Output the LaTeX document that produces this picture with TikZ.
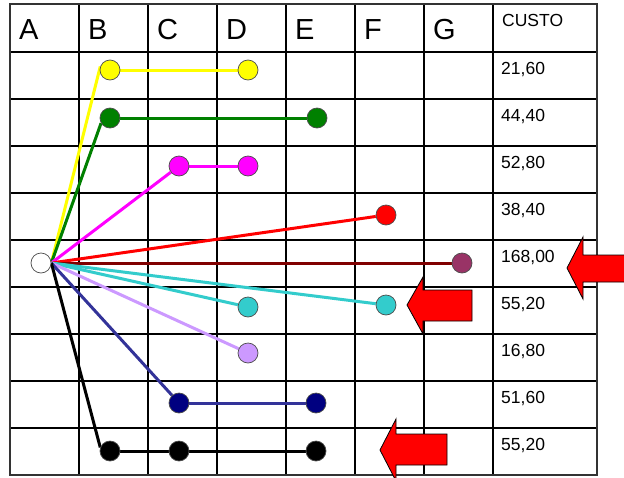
\documentclass[tikz,border=0pt]{standalone}
\usepackage{fontspec}
\setmainfont{Liberation Sans}
\pgfdeclarelayer{gridlayer}
\pgfdeclarelayer{linelayer}
\pgfsetlayers{gridlayer,linelayer,main}
\definecolor{cyellow}{RGB}{255,255,0}
\definecolor{cgreen}{RGB}{0,128,0}
\definecolor{cmagenta}{RGB}{255,0,255}
\definecolor{cred}{RGB}{255,0,0}
\definecolor{cmaroonline}{RGB}{128,0,0}
\definecolor{cmaroon}{RGB}{153,51,102}
\definecolor{ccyan}{RGB}{51,204,204}
\definecolor{clav}{RGB}{204,153,255}
\definecolor{cnavy}{RGB}{0,0,128}
\definecolor{cnavyline}{RGB}{51,51,153}
\begin{document}
\begin{tikzpicture}[x=1pt,y=-1pt,
  gridline/.style={line width=1.1pt, draw=black},
  frame/.style={line width=2.2pt, draw=black!80},
  conn/.style={line width=3pt},
  dot/.style={circle, minimum size=20pt, inner sep=0pt, draw=black!70, line width=0.7pt},
  hdr/.style={font=\fontsize{29}{30}\selectfont, anchor=base west, inner sep=0pt},
  cost/.style={font=\fontsize{17.5}{18}\selectfont, anchor=base west, inner sep=0pt},
  bigarrow/.style={fill=cred, draw=black, line width=0.8pt, line join=miter}]
\useasboundingbox (0,0) rectangle (624,477);
\begin{pgfonlayer}{gridlayer}
\fill[white] (0,0) rectangle (624,477);
\foreach \x in {79,148,217,286,355,424,493} \draw[gridline] (\x,4) -- (\x,475);
\foreach \y in {52,99,146,193,240,287,334,381,428} \draw[gridline] (10,\y) -- (597,\y);
\draw[frame] (10,4) rectangle (597,475);
\end{pgfonlayer}
% header
\foreach \l/\x in {A/10,B/79,C/148,D/217,E/286,F/355,G/424}
  \node[hdr] (h\l) at (\x+9,39) {\l};
\node[cost] (custo) at (502,26) {CUSTO};
% costs
\node[cost] (p1) at (501,74) {21,60};
\node[cost] (p2) at (501,121) {44,40};
\node[cost] (p3) at (501,168) {52,80};
\node[cost] (p4) at (501,215) {38,40};
\node[cost] (p5) at (501,262) {168,00};
\node[cost] (p6) at (501,309) {55,20};
\node[cost] (p7) at (501,356) {16,80};
\node[cost] (p8) at (501,403) {51,60};
\node[cost] (p9) at (501,450) {55,20};
% circles
\node[dot, fill=white] (o) at (41,263) {};
\node[dot, fill=cyellow] (y1) at (110,70) {};
\node[dot, fill=cyellow] (y2) at (248,70) {};
\node[dot, fill=cgreen] (g1) at (110,118) {};
\node[dot, fill=cgreen] (g2) at (317,118) {};
\node[dot, fill=cmagenta] (m1) at (179,166) {};
\node[dot, fill=cmagenta] (m2) at (248,166) {};
\node[dot, fill=cred] (r1) at (386,215) {};
\node[dot, fill=cmaroon] (w1) at (462,263) {};
\node[dot, fill=ccyan] (c1) at (248,307) {};
\node[dot, fill=ccyan] (c2) at (386,305) {};
\node[dot, fill=clav] (l1) at (248,353) {};
\node[dot, fill=cnavy] (n1) at (179,403) {};
\node[dot, fill=cnavy] (n2) at (316,403) {};
\node[dot, fill=black] (k1) at (110,451) {};
\node[dot, fill=black] (k2) at (179,451) {};
\node[dot, fill=black] (k3) at (316,451) {};
% connectors
\begin{pgfonlayer}{linelayer}
\draw[conn, cyellow] (o.east) -- (y1.160);
\draw[conn, cyellow] (y1) -- (y2);
\draw[conn, cgreen] (o.east) -- (g1.210);
\draw[conn, cgreen] (g1) -- (g2);
\draw[conn, cmagenta] (o.east) -- (m1);
\draw[conn, cmagenta] (m1) -- (m2);
\draw[conn, cred] (o.east) -- (r1);
\draw[conn, cmaroonline] (o.east) -- (w1);
\draw[conn, ccyan] (o.east) -- (c1);
\draw[conn, ccyan] (o.east) -- (c2);
\draw[conn, clav] (o.east) -- (l1);
\draw[conn, cnavyline] (o.east) -- (n1);
\draw[conn, cnavyline] (n1) -- (n2);
\draw[conn, black] (o.east) -- (k1.160);
\draw[conn, black] (k1) -- (k2) -- (k3);
\end{pgfonlayer}
% red arrows
\draw[bigarrow] (567,268) -- (583,237) -- (583,255) -- (630,255) -- (630,282) -- (583,282) -- (583,299) -- cycle;
\draw[bigarrow] (407,305) -- (423,277) -- (423,290) -- (472,290) -- (472,321) -- (423,321) -- (423,334) -- cycle;
\draw[bigarrow] (380,450) -- (396,419) -- (396,434) -- (447,434) -- (447,465) -- (396,465) -- (396,481) -- cycle;
\end{tikzpicture}
\end{document}
